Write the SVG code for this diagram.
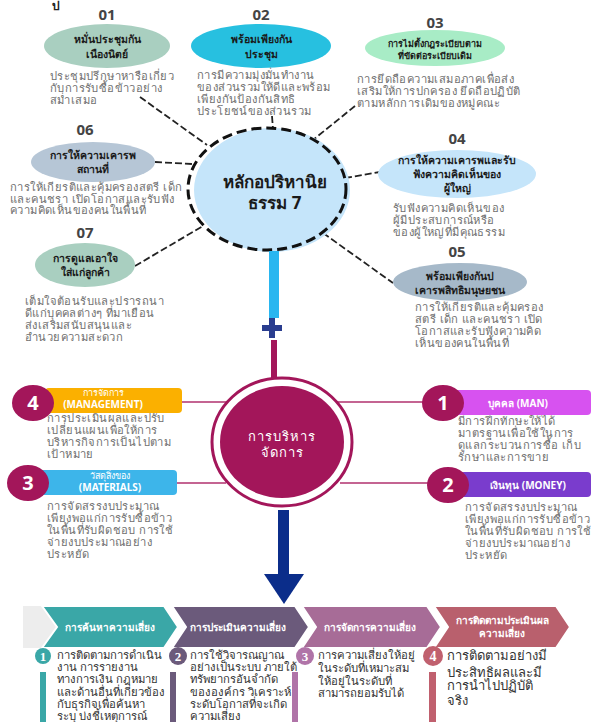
<svg xmlns="http://www.w3.org/2000/svg" width="591" height="722" viewBox="0 0 591 722">
<style>
text{font-family:"Noto Sans","DejaVu Sans",sans-serif;}
.num{font-size:15px;font-weight:bold;fill:#444;text-anchor:middle;}
.ttl{font-size:10.5px;font-weight:bold;fill:#1a1a1a;text-anchor:middle;}
.desc{font-size:11.2px;fill:#707070;letter-spacing:0.4px;}
.dash{stroke:#222;stroke-width:1.8;stroke-dasharray:7 3;fill:none;}
.mline{stroke:#b0306e;stroke-width:1.5;fill:none;}
.bw{fill:#fff;text-anchor:middle;}
.chev{font-size:10px;font-weight:bold;fill:#fff;text-anchor:middle;}
.btxt{font-size:11.3px;fill:#333;}
</style>
<rect width="591" height="722" fill="#fff"/>
<text x="52" y="10" style="font-size:12px;font-weight:bold;fill:#222">ป</text>

<g id="connectors">
<line class="dash" x1="140" y1="97" x2="207" y2="145"/>
<line class="dash" x1="272" y1="116" x2="273" y2="129"/>
<line class="dash" x1="355" y1="106" x2="313" y2="140"/>
<line class="dash" x1="155" y1="162" x2="192" y2="164"/>
<line class="dash" x1="135" y1="266" x2="203" y2="226"/>
<line class="dash" x1="345" y1="178" x2="380" y2="172"/>
<line class="dash" x1="323" y1="233" x2="393" y2="283"/>
<line class="mline" x1="181" y1="402" x2="232" y2="402"/>
<line class="mline" x1="177" y1="483" x2="226" y2="483"/>
<line class="mline" x1="337" y1="402" x2="427" y2="402"/>
<line class="mline" x1="340" y1="483" x2="432" y2="483"/>
</g>

<g id="n01">
<text class="num" x="107" y="20">01</text>
<ellipse cx="107" cy="46" rx="63" ry="22" fill="#a9cfc0"/>
<text class="ttl" x="107" y="43">หมั่นประชุมกัน</text>
<text class="ttl" x="107" y="58">เนืองนิตย์</text>
<text class="desc" x="50" y="80">ประชุมปรึกษาหารือเกี่ยว</text>
<text class="desc" x="50" y="92">กับการรับซื้อข้าวอย่าง</text>
<text class="desc" x="50" y="104">สม่ำเสมอ</text>
</g>

<g id="n02">
<text class="num" x="261" y="20">02</text>
<ellipse cx="261" cy="46" rx="70" ry="22" fill="#27c0e0"/>
<text class="ttl" x="261" y="43">พร้อมเพียงกัน</text>
<text class="ttl" x="261" y="58">ประชุม</text>
<text class="desc" x="197" y="79">การมีความมุ่งมั่นทำงาน</text>
<text class="desc" x="197" y="91">ของส่วนรวมให้ดีและพร้อม</text>
<text class="desc" x="197" y="103">เพียงกันป้องกันสิทธิ</text>
<text class="desc" x="197" y="115">ประโยชน์ของส่วนรวม</text>
</g>

<g id="n03">
<text class="num" x="435" y="28">03</text>
<ellipse cx="435" cy="48" rx="70" ry="18" fill="#a8ecc6"/>
<text class="ttl" x="435" y="47" style="font-size:9px">การไม่ตั้งกฎระเบียบตาม</text>
<text class="ttl" x="435" y="59" style="font-size:9px">ที่ขัดต่อระเบียบเดิม</text>
<text class="desc" x="357" y="83">การยึดถือความเสมอภาคเพื่อส่ง</text>
<text class="desc" x="357" y="95">เสริมให้การปกครอง ยึดถือปฏิบัติ</text>
<text class="desc" x="357" y="107">ตามหลักการเดิมของหมู่คณะ</text>
</g>

<g id="n06">
<text class="num" x="85" y="135">06</text>
<ellipse cx="93" cy="162" rx="62" ry="20" fill="#b6c6d6"/>
<text class="ttl" x="93" y="159">การให้ความเคารพ</text>
<text class="ttl" x="93" y="173">สถานที่</text>
<text class="desc" x="10" y="191">การให้เกียรติและคุ้มครองสตรี เด็ก</text>
<text class="desc" x="10" y="203">และคนชรา เปิดโอกาสและรับฟัง</text>
<text class="desc" x="10" y="214">ความคิดเห็นของคนในพื้นที่</text>
</g>

<g id="n07">
<text class="num" x="85" y="238">07</text>
<ellipse cx="85" cy="265" rx="50" ry="22" fill="#a9cfc0"/>
<text class="ttl" x="85" y="262">การดูแลเอาใจ</text>
<text class="ttl" x="85" y="276">ใส่แก่ลูกค้า</text>
<text class="desc" x="25" y="305">เต็มใจต้อนรับและปรารถนา</text>
<text class="desc" x="25" y="317">ดีแก่บุคคลต่างๆ ที่มาเยือน</text>
<text class="desc" x="25" y="329">ส่งเสริมสนับสนุนและ</text>
<text class="desc" x="25" y="341">อำนวยความสะดวก</text>
</g>

<g id="n04">
<text class="num" x="457" y="144">04</text>
<ellipse cx="457" cy="174" rx="79" ry="24" fill="#c5e5fa"/>
<text class="ttl" x="457" y="164">การให้ความเคารพและรับ</text>
<text class="ttl" x="457" y="178">ฟังความคิดเห็นของ</text>
<text class="ttl" x="457" y="192">ผู้ใหญ่</text>
<text class="desc" x="393" y="212">รับฟังความคิดเห็นของ</text>
<text class="desc" x="393" y="224">ผู้มีประสบการณ์หรือ</text>
<text class="desc" x="393" y="236">ของผู้ใหญ่ที่มีคุณธรรม</text>
</g>

<g id="n05">
<text class="num" x="457" y="257">05</text>
<ellipse cx="460" cy="282" rx="67" ry="19" fill="#a6b9c9"/>
<text class="ttl" x="460" y="280">พร้อมเพียงกันป</text>
<text class="ttl" x="460" y="294">เคารพสิทธิมนุษยชน</text>
<text class="desc" x="415" y="311">การให้เกียรติและคุ้มครอง</text>
<text class="desc" x="415" y="323">สตรี เด็ก และคนชรา เปิด</text>
<text class="desc" x="415" y="335">โอกาสและรับฟังความคิด</text>
<text class="desc" x="415" y="347">เห็นของคนในพื้นที่</text>
</g>

<g id="center">
<ellipse cx="272" cy="190" rx="78" ry="62" fill="#c5e5fa"/>
<ellipse cx="267" cy="189" rx="79" ry="61" fill="none" stroke="#111" stroke-width="3" stroke-dasharray="10 5"/>
<text x="275" y="188" style="font-size:17px;font-weight:bold;fill:#1a1a1a;text-anchor:middle">หลักอปริหานิย</text>
<text x="275" y="209" style="font-size:17px;font-weight:bold;fill:#1a1a1a;text-anchor:middle">ธรรม 7</text>
</g>

<g id="stem">
<rect x="269" y="251" width="10" height="67" fill="#29b6f0"/>
<rect x="262" y="325" width="20" height="6" fill="#2a3d8f"/>
<rect x="269" y="318" width="6" height="20" fill="#2a3d8f"/>
<rect x="271" y="340" width="6" height="40" fill="#a3165a"/>
</g>

<g id="mgmt">
<ellipse cx="282" cy="442" rx="70" ry="64" fill="#fff" stroke="#a3165a" stroke-width="3"/>
<ellipse cx="282" cy="442" rx="62" ry="56" fill="#a3165a"/>
<text x="282" y="441" style="font-size:13px;fill:#fff;text-anchor:middle;letter-spacing:1px">การบริหาร</text>
<text x="282" y="457" style="font-size:13px;fill:#fff;text-anchor:middle;letter-spacing:1px">จัดการ</text>
</g>

<g id="m4">
<rect x="45" y="388" width="137" height="25" rx="4" fill="#fbb000"/>
<ellipse cx="33" cy="403" rx="21" ry="18" fill="#a3165a"/>
<text class="bw" x="33" y="410" style="font-size:20px;font-weight:bold">4</text>
<text class="bw" x="103" y="396" style="font-size:9px">การจัดการ</text>
<text class="bw" x="103" y="408" style="font-size:10px;font-weight:bold">(MANAGEMENT)</text>
<text class="desc" x="47" y="422">การประเมินผลและปรับ</text>
<text class="desc" x="47" y="434">เปลี่ยนแผนเพื่อให้การ</text>
<text class="desc" x="47" y="446">บริหารกิจการเป็นไปตาม</text>
<text class="desc" x="47" y="458">เป้าหมาย</text>
</g>

<g id="m3">
<rect x="40" y="470" width="137" height="25" rx="4" fill="#3db5ea"/>
<ellipse cx="28" cy="483" rx="21" ry="18" fill="#a3165a"/>
<text class="bw" x="28" y="490" style="font-size:20px;font-weight:bold">3</text>
<text class="bw" x="110" y="479" style="font-size:9px">วัสดุสิ่งของ</text>
<text class="bw" x="110" y="491" style="font-size:10px;font-weight:bold">(MATERIALS)</text>
<text class="desc" x="47" y="510">การจัดสรรงบประมาณ</text>
<text class="desc" x="47" y="522">เพียงพอแก่การรับซื้อข้าว</text>
<text class="desc" x="47" y="534">ในพื้นที่รับผิดชอบ การใช้</text>
<text class="desc" x="47" y="546">จ่ายงบประมาณอย่าง</text>
<text class="desc" x="47" y="558">ประหยัด</text>
</g>

<g id="m1">
<rect x="455" y="390" width="136" height="25" rx="4" fill="#d752f0"/>
<ellipse cx="443" cy="403" rx="21" ry="18" fill="#a3165a"/>
<text class="bw" x="443" y="410" style="font-size:20px;font-weight:bold">1</text>
<text class="bw" x="518" y="407" style="font-size:10px;font-weight:bold">บุคคล (MAN)</text>
<text class="desc" x="458" y="425">มีการฝึกทักษะให้ได้</text>
<text class="desc" x="458" y="437">มาตรฐานเพื่อใช้ในการ</text>
<text class="desc" x="458" y="449">ดูแลกระบวนการซื้อ เก็บ</text>
<text class="desc" x="458" y="461">รักษาและการขาย</text>
</g>

<g id="m2">
<rect x="460" y="472" width="131" height="25" rx="4" fill="#7a3ccd"/>
<ellipse cx="448" cy="485" rx="21" ry="18" fill="#a3165a"/>
<text class="bw" x="448" y="492" style="font-size:20px;font-weight:bold">2</text>
<text class="bw" x="528" y="489" style="font-size:10px;font-weight:bold">เงินทุน (MONEY)</text>
<text class="desc" x="465" y="511">การจัดสรรงบประมาณ</text>
<text class="desc" x="465" y="523">เพียงพอแก่การรับซื้อข้าว</text>
<text class="desc" x="465" y="535">ในพื้นที่รับผิดชอบ การใช้</text>
<text class="desc" x="465" y="547">จ่ายงบประมาณอย่าง</text>
<text class="desc" x="465" y="559">ประหยัด</text>
</g>

<g id="arrow">
<rect x="278" y="510" width="11" height="68" fill="#0b2d8a"/>
<polygon points="264,574 304,574 284,604" fill="#0b2d8a"/>
</g>

<g id="chevrons">
<rect x="23" y="606" width="40" height="42" fill="#ededed"/>
<polygon points="42,606 164,606 178,627 164,648 42,648 57,627" fill="#3aa7a7" stroke="#fff" stroke-width="2"/>
<polygon points="172,606 295,606 309,627 295,648 172,648 186,627" fill="#6b5a7b" stroke="#fff" stroke-width="2"/>
<polygon points="302,606 427,606 441,627 427,648 302,648 316,627" fill="#a76c97" stroke="#fff" stroke-width="2"/>
<polygon points="434,606 556,606 570,627 556,648 434,648 448,627" fill="#b9606d" stroke="#fff" stroke-width="2"/>
<text class="chev" x="110" y="631">การค้นหาความเสี่ยง</text>
<text class="chev" x="238" y="631">การประเมินความเสี่ยง</text>
<text class="chev" x="370" y="631">การจัดการความเสี่ยง</text>
<text class="chev" x="502" y="624">การติดตามประเมินผล</text>
<text class="chev" x="502" y="637">ความเสี่ยง</text>
</g>

<g id="r1">
<circle cx="43" cy="656" r="8" fill="#3aa7a7"/>
<text x="43" y="661" style="font-family:'Liberation Serif',serif;font-size:13px;font-weight:bold;fill:#fff;text-anchor:middle">1</text>
<rect x="40" y="672" width="6" height="50" fill="#3aa7a7"/>
<text class="btxt" x="57" y="659">การติดตามการดำเนิน</text>
<text class="btxt" x="57" y="671">งาน การรายงาน</text>
<text class="btxt" x="57" y="683">ทางการเงิน กฎหมาย</text>
<text class="btxt" x="57" y="696">และด้านอื่นที่เกี่ยวข้อง</text>
<text class="btxt" x="57" y="708">กับธุรกิจเพื่อค้นหา</text>
<text class="btxt" x="57" y="720">ระบุ บ่งชี้เหตุการณ์</text>
</g>

<g id="r2">
<circle cx="178" cy="656" r="9" fill="#6b5a7b"/>
<text x="178" y="661" style="font-family:'Liberation Serif',serif;font-size:13px;font-weight:bold;fill:#fff;text-anchor:middle">2</text>
<rect x="170" y="672" width="6" height="50" fill="#6b5a7b"/>
<text class="btxt" x="190" y="659">การใช้วิจารณญาณ</text>
<text class="btxt" x="190" y="671">อย่างเป็นระบบ ภายใต้</text>
<text class="btxt" x="190" y="683">ทรัพยากรอันจำกัด</text>
<text class="btxt" x="190" y="696">ขององค์กร วิเคราะห์</text>
<text class="btxt" x="190" y="708">ระดับโอกาสที่จะเกิด</text>
<text class="btxt" x="190" y="720">ความเสี่ยง</text>
</g>

<g id="r3">
<circle cx="305" cy="656" r="9" fill="#b074a8"/>
<text x="305" y="661" style="font-family:'Liberation Serif',serif;font-size:13px;font-weight:bold;fill:#fff;text-anchor:middle">3</text>
<rect x="292" y="672" width="6" height="50" fill="#b074a8"/>
<text class="btxt" x="318" y="659">การความเสี่ยงให้อยู่</text>
<text class="btxt" x="318" y="672">ในระดับที่เหมาะสม</text>
<text class="btxt" x="318" y="685">ให้อยู่ในระดับที่</text>
<text class="btxt" x="318" y="697">สามารถยอมรับได้</text>
</g>

<g id="r4">
<circle cx="433" cy="656" r="10" fill="#c0606e"/>
<text x="433" y="661" style="font-family:'Liberation Serif',serif;font-size:14px;font-weight:bold;fill:#fff;text-anchor:middle">4</text>
<rect x="429" y="672" width="7" height="50" fill="#c0606e"/>
<text class="btxt" x="447" y="660" style="font-size:13px">การติดตามอย่างมี</text>
<text class="btxt" x="447" y="677" style="font-size:13px">ประสิทธิผลและมี</text>
<text class="btxt" x="447" y="690" style="font-size:13px">การนำไปปฏิบัติ</text>
<text class="btxt" x="447" y="705" style="font-size:13px">จริง</text>
</g>
</svg>
